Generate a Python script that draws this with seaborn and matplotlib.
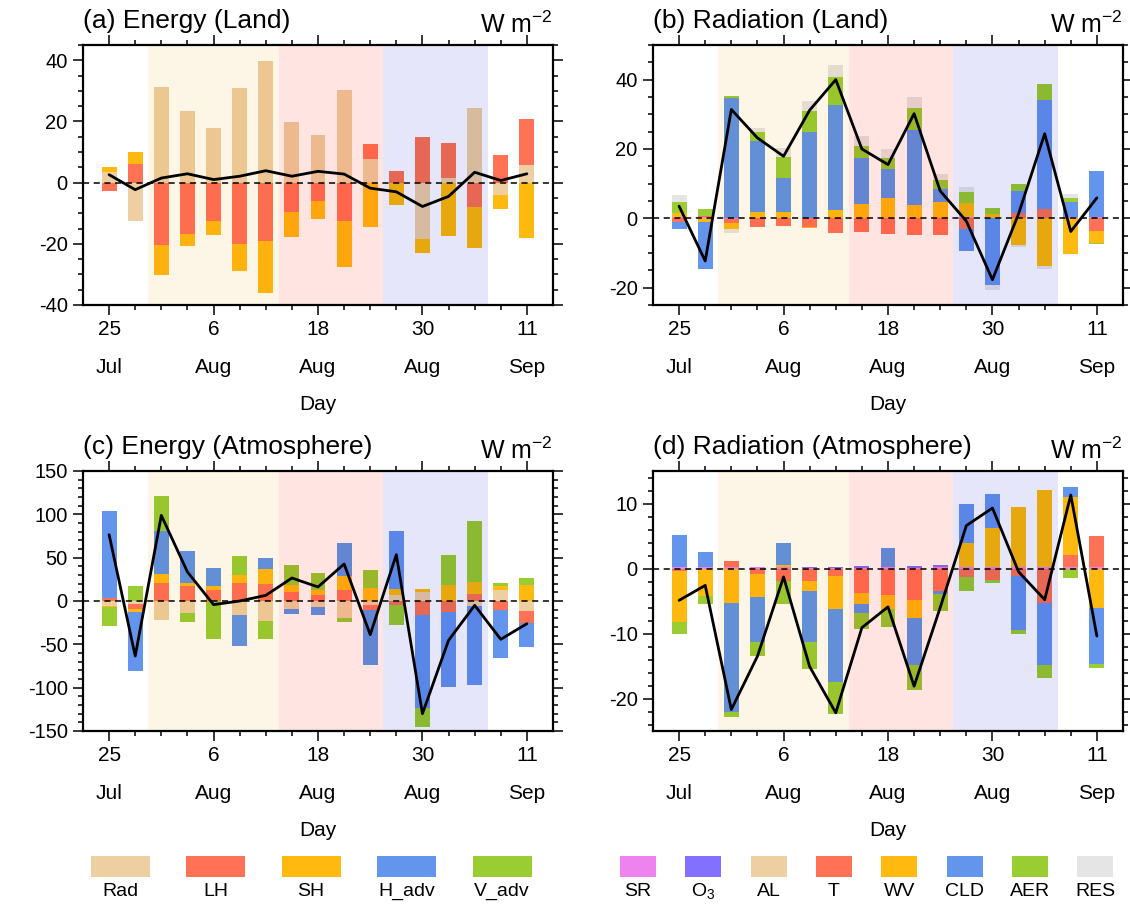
import numpy as np
import pandas as pd
import matplotlib
matplotlib.use("Agg")
import matplotlib.pyplot as plt
import matplotlib.colors as mcolors
from matplotlib.patches import Rectangle
import seaborn as sns

# ---- data ----
dates = ["07-25", "07-28", "07-31", "08-03", "08-06", "08-09", "08-12", "08-15", "08-18",
         "08-21", "08-24", "08-27", "08-30", "09-02", "09-05", "09-08", "09-11"]
period_edges = ["07-29 12:00", "08-13 12:00", "08-25 12:00", "09-06 12:00"]
period_colors = ["#FDF5E6", "#FFE4E1", "#E6E6FA"]

# (a) Energy (Land)
a_rad = [3.5, -12.4, 31.4, 23.4, 17.9, 31.0, 39.9, 19.7, 15.5, 30.3, 7.8, 0.0, -18.3, 1.5, 24.5, -3.9, 5.9]
a_lh = [-2.8, 6.2, -20.5, -16.7, -12.6, -20.2, -19.1, -9.7, -6.1, -12.6, 4.8, 3.9, 15.0, 11.6, -7.8, 9.1, 14.9]
a_sh = [1.5, 3.8, -9.7, -4.0, -4.6, -8.7, -17.0, -8.0, -5.8, -15.1, -14.6, -7.2, -4.7, -17.6, -13.6, -4.7, -18.0]
a_net = [2.6, -2.3, 1.5, 2.9, 1.0, 2.1, 3.9, 2.1, 3.7, 2.8, -1.8, -3.0, -7.8, -4.5, 3.4, 0.7, 2.9]

# (b) Radiation (Land)
b_sr = [0.3, 0.3, -0.3, 0.2, 0.2, 0.2, 0.2, 0.2, 0.2, 0.2, 0.2, 0.3, 0.2, 0.2, 0.2, 0.3, 0.3]
b_o3 = [0.0, 0.0, 0.0, 0.0, 0.0, 0.0, 0.0, 0.0, 0.0, 0.0, 0.0, 0.0, 0.0, 0.0, 0.0, 0.0, 0.0]
b_al = [0.0, 0.0, 0.0, 0.0, 0.0, 0.0, 0.0, 0.0, 0.0, 0.0, 0.0, 0.0, 0.0, 0.0, 0.0, 0.0, 0.0]
b_t = [-1.0, 0.4, -1.1, -2.5, -2.2, -2.5, -4.2, -3.9, -4.4, -4.8, -4.9, -3.0, 0.0, 1.4, 2.6, 0.0, -3.6]
b_wv = [1.1, -1.0, -1.8, 1.6, 1.6, -0.4, 2.3, 4.0, 5.8, 3.6, 4.6, 4.1, 1.0, -7.8, -13.8, -10.3, -3.5]
b_cld = [-2.0, -13.6, 34.7, 20.6, 9.9, 24.7, 30.3, 13.1, 8.3, 21.6, 3.7, -6.5, -19.2, 6.3, 31.4, 4.4, 13.3]
b_aer = [3.4, 1.9, 0.7, 2.4, 5.9, 6.2, 8.1, 3.5, 3.2, 6.3, 2.6, 3.1, 1.7, 2.0, 4.6, 1.1, -0.4]
b_res = [1.9, 0.0, -1.0, 1.2, 2.6, 2.7, 3.4, 2.9, 2.6, 3.3, 1.6, 1.4, -1.4, -0.6, -0.7, 1.2, 0.0]
b_net = [3.5, -12.3, 31.4, 23.2, 17.9, 31.2, 40.0, 20.0, 15.5, 30.2, 7.9, -0.8, -17.7, 1.3, 24.4, -3.8, 5.9]

# (c) Energy (Atmosphere)
c_rad = [-5.4, -3.8, -22.3, -13.8, 0.0, -16.5, -23.1, -9.6, -6.5, -19.2, -5.0, 7.3, 10.0, 0.0, -5.8, 12.3, -11.5]
c_lh = [3.0, -5.4, 20.8, 17.3, 12.3, 20.8, 19.6, 10.0, 6.5, 13.1, -5.0, -4.6, -15.8, -13.1, 7.7, -10.0, -14.2]
c_sh = [-1.5, -3.8, 10.0, 3.8, 4.6, 8.8, 16.9, 8.5, 5.8, 15.4, 14.6, 6.2, 4.2, 18.1, 13.8, 5.0, 18.1]
c_hadv = [100.8, -67.7, 50.0, 36.5, 21.2, -35.0, 12.7, -5.4, -9.6, 38.8, -63.8, 66.9, -107.3, -86.2, -91.5, -55.8, -27.3]
c_vadv = [-21.5, 16.9, 40.0, -10.4, -43.5, 21.9, -20.4, 23.1, 19.6, -5.4, 21.5, -23.5, -21.9, 34.6, 70.4, 3.8, 8.1]
c_net = [76.5, -63.5, 98.8, 33.5, -4.2, 0.0, 6.5, 26.5, 16.2, 42.7, -38.8, 53.5, -130.0, -45.4, -5.0, -44.2, -26.2]

# (d) Radiation (Atmosphere)
d_sr = [0.3, 0.2, 0.2, 0.2, 0.2, 0.1, 0.1, 0.1, 0.3, 0.1, 0.2, 0.2, 0.2, 0.2, 0.2, 0.2, 0.2]
d_o3 = [0.0, 0.1, 0.0, 0.0, 0.0, 0.2, 0.2, 0.3, 0.0, 0.3, 0.3, 0.1, 0.1, 0.1, 0.1, 0.1, 0.1]
d_al = [0.0, 0.0, 0.0, 0.0, 0.0, 0.0, 0.0, 0.0, 0.0, 0.0, 0.0, 0.0, 0.0, 0.0, 0.0, 0.0, 0.0]
d_t = [-0.4, 0.0, 1.0, -0.9, -1.9, -1.9, -1.2, -3.8, -4.1, -4.9, -3.5, -1.3, -1.8, -1.2, -5.3, 1.8, 4.7]
d_wv = [-7.9, -4.3, -5.3, -3.5, 0.3, -1.6, -5.0, -1.7, -2.1, -2.7, 0.0, 3.7, 5.9, 9.2, 11.7, 8.9, -6.1]
d_cld = [4.9, 2.3, -16.8, -6.9, 3.4, -7.8, -11.2, -1.3, 2.8, -7.2, -0.4, 6.0, 5.3, -8.2, -9.5, 1.6, -8.6]
d_aer = [-1.8, -1.2, -0.8, -2.2, -3.5, -4.2, -5.0, -2.5, -2.8, -3.9, -2.6, -2.1, -0.4, -0.6, -2.0, -1.5, -0.6]
d_res = [0.0, 0.0, 0.0, 0.0, 0.0, 0.0, 0.0, 0.0, 0.0, 0.0, 0.0, 0.0, 0.0, 0.0, 0.0, 0.0, 0.0]
d_net = [-4.9, -2.6, -21.7, -13.5, -1.3, -15.1, -22.2, -9.1, -5.9, -18.1, -6.0, 6.6, 9.3, -0.5, -4.8, 11.3, -10.4]

energy_names = ["Rad", "LH", "SH", "H_adv", "V_adv"]
energy_colors = ["#EECFA1", "#FF7256", "#FFB90F", "#6495ED", "#9ACD32"]
rad_names = ["SR", "O$_3$", "AL", "T", "WV", "CLD", "AER", "RES"]
rad_colors = ["#EE82EE", "#8470FF", "#EECFA1", "#FF7256", "#FFB90F", "#6495ED", "#9ACD32", "#E5E5E5"]

# ---- style ----
sns.set_style("ticks")
plt.rcParams["font.family"] = ["Liberation Sans", "DejaVu Sans"]
plt.rcParams["mathtext.fontset"] = "custom"
plt.rcParams["mathtext.rm"] = "Liberation Sans"
plt.rcParams["mathtext.it"] = "Liberation Sans:italic"
plt.rcParams["axes.unicode_minus"] = False
for k in ["text.color", "axes.labelcolor", "xtick.color", "ytick.color", "axes.edgecolor"]:
    plt.rcParams[k] = "black"

t = pd.to_datetime(["2000-" + d for d in dates])
x = ((t - t[0]) / pd.Timedelta(days=1)).values
edges = ((pd.to_datetime(["2000-" + e for e in period_edges]) - t[0]) / pd.Timedelta(days=1)).values
xlabels = [f"{d.day}\n{d:%b}" for d in t]


def background(xv):
    for i, c in enumerate(period_colors):
        if edges[i] <= xv < edges[i + 1]:
            return np.array(mcolors.to_rgb(c))
    return np.ones(3)


def draw_panel(ax, series, colors, net, ylim, major, minor, title):
    for i, c in enumerate(period_colors):
        ax.axvspan(edges[i], edges[i + 1], color=c, lw=0, zorder=0)
    pos_bot = np.zeros(len(x))
    neg_bot = np.zeros(len(x))
    for vals, c in zip(series, colors):
        vals = np.asarray(vals, dtype=float)
        base = np.where(vals >= 0, pos_bot, neg_bot)
        # bars look multiplied with the shaded period behind them
        fc = [tuple(np.array(mcolors.to_rgb(c)) * background(xi)) for xi in x]
        ax.bar(x, vals, width=1.7, bottom=base, color=fc, linewidth=0, zorder=2)
        pos_bot += np.clip(vals, 0, None)
        neg_bot += np.clip(vals, None, 0)
    ax.axhline(0, color="black", lw=1.1, ls=(0, (4, 3)), zorder=3)
    sns.lineplot(x=x, y=net, color="black", lw=2, ax=ax, zorder=4)

    ax.set_xlim(-3, 51)
    ax.set_ylim(*ylim)
    ax.set_xticks(x[::4])
    ax.set_xticklabels(xlabels[::4], fontsize=15, linespacing=2.25)
    ax.set_xticks(x, minor=True)
    ax.set_yticks(major)
    ax.set_yticklabels([str(v) for v in major], fontsize=14.5)
    ax.set_yticks(minor, minor=True)
    ax.tick_params(which="both", direction="out", top=True, right=True, width=1.1)
    ax.tick_params(which="major", length=7, pad=4)
    ax.tick_params(which="minor", length=3.5)
    for s in ax.spines.values():
        s.set_linewidth(1.6)
        s.set_zorder(5)
    ax.set_xlabel("Day", fontsize=15, labelpad=13)
    ax.text(0, 1.065, title, transform=ax.transAxes, fontsize=19, ha="left", va="baseline")
    ax.text(1, 1.045, "W m$^{-2}$", transform=ax.transAxes, fontsize=18, ha="right", va="baseline")


W, H = 1130, 906
fig = plt.figure(figsize=(W / 100, H / 100), dpi=100)


def px_axes(left, top, right, bottom):
    return fig.add_axes([left / W, 1 - bottom / H, (right - left) / W, (bottom - top) / H])


ax_a = px_axes(83, 45, 553, 305)
ax_b = px_axes(653, 45, 1123, 305)
ax_c = px_axes(83, 471, 553, 731)
ax_d = px_axes(653, 471, 1123, 731)

draw_panel(ax_a, [a_rad, a_lh, a_sh], energy_colors[:3], a_net, (-40, 45),
           [-40, -20, 0, 20, 40], np.arange(-40, 46, 5), "(a) Energy (Land)")
draw_panel(ax_b, [b_sr, b_o3, b_al, b_t, b_wv, b_cld, b_aer, b_res], rad_colors, b_net, (-25, 50),
           [-20, 0, 20, 40], np.arange(-25, 51, 5), "(b) Radiation (Land)")
draw_panel(ax_c, [c_rad, c_lh, c_sh, c_hadv, c_vadv], energy_colors, c_net, (-150, 150),
           [-150, -100, -50, 0, 50, 100, 150], np.arange(-150, 151, 10), "(c) Energy (Atmosphere)")
draw_panel(ax_d, [d_sr, d_o3, d_al, d_t, d_wv, d_cld, d_aer, d_res], rad_colors, d_net, (-25, 15),
           [-20, -10, 0, 10], np.arange(-24, 15, 2), "(d) Radiation (Atmosphere)")

# ---- legends at the bottom (boxes with labels underneath) ----
def draw_legend(names, colors, x0, step, bw):
    for i, (n, c) in enumerate(zip(names, colors)):
        cx = x0 + i * step
        fig.add_artist(Rectangle(((cx - bw / 2) / W, 1 - 877 / H), bw / W, 21 / H,
                                 transform=fig.transFigure, color=c, lw=0))
        fig.text(cx / W, 1 - 891 / H, n, ha="center", va="center", fontsize=14)


draw_legend(energy_names, energy_colors, 120, 95.5, 59)
draw_legend(rad_names, rad_colors, 638, 65.3, 36)

fig.savefig("out.png", dpi=100)
